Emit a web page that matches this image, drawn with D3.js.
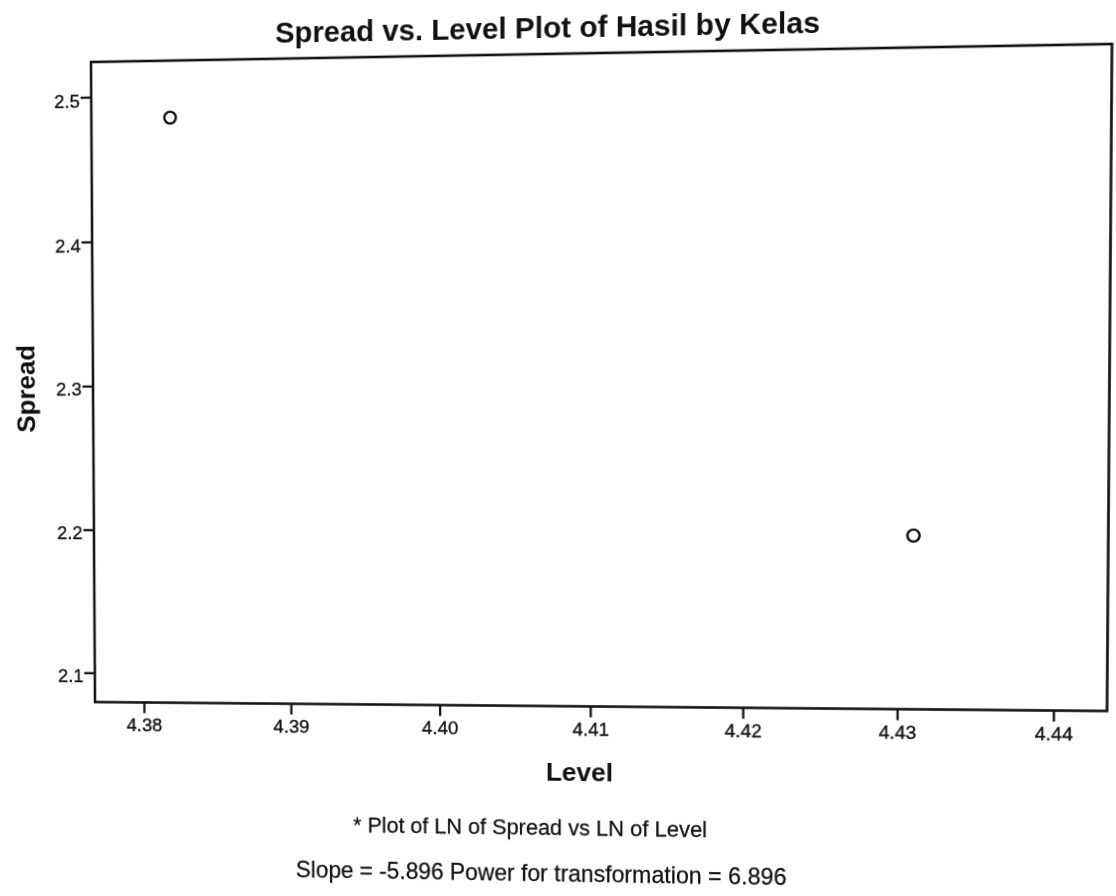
<!DOCTYPE html>
<html>
<head>
<meta charset="utf-8">
<script src="https://cdn.jsdelivr.net/npm/d3@7"></script>
<style>
  html, body { margin: 0; padding: 0; background: #fff; }
  #chart { display: block; transform-origin: 0 0; }
  text { font-family: "Liberation Sans", Arial, sans-serif; fill: #111; }
</style>
</head>
<body>
<svg id="chart" width="1116" height="896"></svg>
<script>
// Spread-vs-level values: LN of group median (Level) and LN of IQR (Spread)
const levelValues  = [4.382, 4.431];
const spreadValues = [2.485, 2.197];

const xTicks = [4.38, 4.39, 4.40, 4.41, 4.42, 4.43, 4.44];
const yTicks = [2.1, 2.2, 2.3, 2.4, 2.5];

const titleText  = "Spread vs. Level Plot of Hasil by Kelas";
const xLabelText = "Level";
const yLabelText = "Spread";
const noteLines  = [
  "* Plot of LN of Spread vs LN of Level",
  "Slope = -5.896 Power for transformation = 6.896"
];

// Plot frame (drawing coordinates)
const frame = { left: 93, top: 53, right: 1109.5, bottom: 706.5 };

const x = d3.scaleLinear().domain([4.37665, 4.4434]).range([frame.left, frame.right]);
const y = d3.scaleLinear().domain([2.0795, 2.5242]).range([frame.bottom, frame.top]);

const svg = d3.select("#chart");
const ink = "#111";

// Title
svg.append("text")
  .attr("x", 555).attr("y", 37)
  .attr("text-anchor", "middle")
  .style("font-size", "29.7px").style("font-weight", "bold")
  .text(titleText);

// Frame
svg.append("rect")
  .attr("x", frame.left).attr("y", frame.top)
  .attr("width", frame.right - frame.left)
  .attr("height", frame.bottom - frame.top)
  .attr("fill", "#fff")
  .attr("stroke", ink).attr("stroke-width", 2.6);

// Axes
const yAxis = svg.append("g")
  .attr("transform", `translate(${frame.left},0)`)
  .call(d3.axisLeft(y).tickValues(yTicks).tickFormat(d3.format(".1f"))
        .tickSize(11).tickPadding(1).tickSizeOuter(0));
const xAxis = svg.append("g")
  .attr("transform", `translate(0,${frame.bottom})`)
  .call(d3.axisBottom(x).tickValues(xTicks).tickFormat(d3.format(".2f"))
        .tickSize(11).tickPadding(5).tickSizeOuter(0));

[xAxis, yAxis].forEach(g => {
  g.select(".domain").remove();
  g.selectAll(".tick line").attr("stroke", ink).attr("stroke-width", 2.3);
  g.selectAll(".tick text")
    .style("font-size", "19px")
    .style("font-family", "\"Liberation Sans\", Arial, sans-serif")
    .attr("fill", ink)
    .attr("stroke", ink).attr("stroke-width", 0.35);
});
yAxis.selectAll(".tick text").attr("dy", "0.5em");

// Points
svg.append("g").selectAll("circle")
  .data(levelValues.map((v, i) => ({ level: v, spread: spreadValues[i] })))
  .join("circle")
  .attr("cx", d => x(d.level))
  .attr("cy", d => y(d.spread))
  .attr("r", 6)
  .attr("fill", "none")
  .attr("stroke", ink).attr("stroke-width", 2.4);

// Axis titles
svg.append("text")
  .attr("x", 590).attr("y", 782)
  .attr("text-anchor", "middle")
  .style("font-size", "26.5px").style("font-weight", "bold")
  .text(xLabelText);

svg.append("text")
  .attr("transform", "translate(32,385) rotate(-90)")
  .attr("text-anchor", "middle")
  .style("font-size", "26.5px").style("font-weight", "bold")
  .text(yLabelText);

// Footnotes
svg.append("g").selectAll("text")
  .data(noteLines)
  .join("text")
  .attr("x", (d, i) => i === 0 ? 539 : 549)
  .attr("y", (d, i) => 837 + i * 47)
  .attr("text-anchor", "middle")
  .style("font-size", (d, i) => i === 0 ? "22px" : "23.2px")
  .attr("stroke", ink).attr("stroke-width", 0.25)
  .text(d => d);

// The printed page is seen slightly in perspective: map the frame corners
// onto the corners of the photographed sheet with a projective transform.
function homography(src, dst) {
  const A = [], b = [];
  for (let i = 0; i < 4; i++) {
    const [sx, sy] = src[i], [dx, dy] = dst[i];
    A.push([sx, sy, 1, 0, 0, 0, -sx * dx, -sy * dx]); b.push(dx);
    A.push([0, 0, 0, sx, sy, 1, -sx * dy, -sy * dy]); b.push(dy);
  }
  const n = 8;
  for (let c = 0; c < n; c++) {
    let p = c;
    for (let r = c + 1; r < n; r++) if (Math.abs(A[r][c]) > Math.abs(A[p][c])) p = r;
    [A[c], A[p]] = [A[p], A[c]]; [b[c], b[p]] = [b[p], b[c]];
    for (let r = 0; r < n; r++) {
      if (r === c) continue;
      const f = A[r][c] / A[c][c];
      for (let k = c; k < n; k++) A[r][k] -= f * A[c][k];
      b[r] -= f * b[c];
    }
  }
  return b.map((v, i) => v / A[i][i]);
}
const srcCorners = [[frame.left, frame.top], [frame.right, frame.top],
                    [frame.right, frame.bottom], [frame.left, frame.bottom]];
const sheetCorners = [[91, 62], [1112, 44], [1107, 711], [95, 702]];
const [a, bb, c, d, e, f, g, h] = homography(srcCorners, sheetCorners);
document.getElementById("chart").style.transform =
  `matrix3d(${a},${d},0,${g},${bb},${e},0,${h},0,0,1,0,${c},${f},0,1)`;
</script>
</body>
</html>
